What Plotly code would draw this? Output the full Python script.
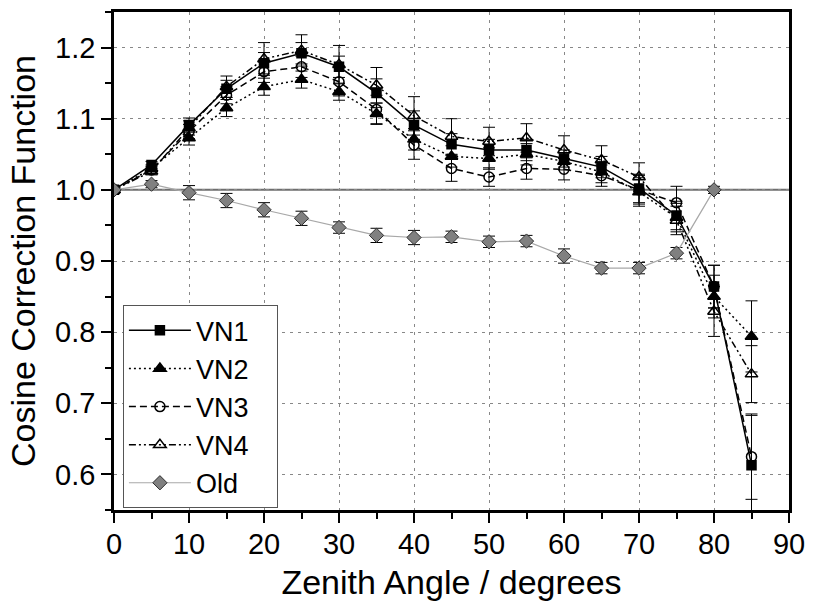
import plotly.graph_objects as go

angles = [0, 5, 10, 15, 20, 25, 30, 35, 40, 45, 50, 55, 60, 65, 70, 75, 80, 85]
vn1 = [1.000, 1.035, 1.091, 1.142, 1.178, 1.192, 1.173, 1.136, 1.091, 1.064, 1.056, 1.056, 1.044, 1.032, 1.002, 0.964, 0.864, 0.613]
vn2 = [1.000, 1.030, 1.073, 1.115, 1.145, 1.155, 1.138, 1.107, 1.071, 1.047, 1.044, 1.050, 1.040, 1.025, 0.997, 0.961, 0.850, 0.794]
vn3 = [1.000, 1.028, 1.082, 1.133, 1.166, 1.173, 1.152, 1.113, 1.063, 1.030, 1.018, 1.030, 1.029, 1.020, 1.000, 0.982, 0.864, 0.625]
vn4 = [1.000, 1.026, 1.087, 1.145, 1.184, 1.196, 1.176, 1.147, 1.104, 1.075, 1.068, 1.073, 1.056, 1.042, 1.018, 0.957, 0.829, 0.741]
vn1_err = [0.005, 0.005, 0.010, 0.012, 0.015, 0.015, 0.015, 0.020, 0.020, 0.015, 0.015, 0.015, 0.012, 0.015, 0.020, 0.020, 0.030, 0.070]
vn2_err = [0.005, 0.005, 0.010, 0.012, 0.012, 0.012, 0.012, 0.015, 0.015, 0.015, 0.015, 0.015, 0.012, 0.015, 0.020, 0.020, 0.030, 0.050]
vn3_err = [0.005, 0.005, 0.010, 0.012, 0.015, 0.015, 0.020, 0.020, 0.020, 0.018, 0.013, 0.015, 0.015, 0.015, 0.020, 0.023, 0.030, 0.060]
vn4_err = [0.005, 0.005, 0.010, 0.015, 0.023, 0.022, 0.027, 0.025, 0.027, 0.025, 0.020, 0.020, 0.020, 0.020, 0.020, 0.020, 0.035, 0.040]

old_angles = [0, 5, 10, 15, 20, 25, 30, 35, 40, 45, 50, 55, 60, 65, 70, 75, 80]
old = [1.000, 1.008, 0.996, 0.985, 0.972, 0.960, 0.947, 0.936, 0.933, 0.934, 0.927, 0.928, 0.907, 0.890, 0.890, 0.911, 1.000]
old_err = [0.005, 0.005, 0.010, 0.010, 0.010, 0.010, 0.008, 0.010, 0.010, 0.008, 0.008, 0.008, 0.010, 0.008, 0.008, 0.008, 0.005]

x_ticks = [0, 10, 20, 30, 40, 50, 60, 70, 80, 90]
y_ticks = [0.6, 0.7, 0.8, 0.9, 1.0, 1.1, 1.2]

FONT = "Liberation Sans, Arial, sans-serif"
# invisible trailing padding so the legend box is as wide as in the reference
PAD = "<span style='color:white;font-size:20px'>__</span>"

fig = go.Figure()

series = [
    ("VN1", vn1, vn1_err, "solid", "square", "black", 9),
    ("VN2", vn2, vn2_err, "2px,3px", "triangle-up", "black", 11),
    ("VN3", vn3, vn3_err, "7px,4px", "circle-open", "black", 10),
    ("VN4", vn4, vn4_err, "7px,3px,2px,3px,2px,3px", "triangle-up-open", "black", 11),
]
for i, (name, ys, es, dash, sym, col, sz) in enumerate(series):
    fig.add_trace(go.Scatter(
        x=angles, y=ys, name=name + PAD, mode="lines+markers",
        line=dict(color="black", width=1.5, dash=dash),
        marker=dict(symbol=sym, size=sz, color=col,
                    line=dict(color="black", width=1.5)),
        error_y=dict(type="data", array=es, visible=True, color="black",
                     thickness=1, width=6),
    ))

fig.add_trace(go.Scatter(
    x=old_angles, y=old, name="Old" + PAD, mode="lines+markers",
    line=dict(color="#a8a8a8", width=1.2),
    marker=dict(symbol="diamond", size=11, color="#808080",
                line=dict(color="#303030", width=1)),
    error_y=dict(type="data", array=old_err, visible=True, color="black",
                 thickness=1, width=6),
))

fig.add_hline(y=1.0, line=dict(color="#6e6e6e", width=2), layer="below")

fig.update_layout(
    width=814, height=604,
    margin=dict(l=114, r=18, t=9, b=94),
    paper_bgcolor="white", plot_bgcolor="white",
    font=dict(family=FONT, size=29, color="black"),
    showlegend=True,
    legend=dict(
        x=0.0132, y=0.411, xanchor="left", yanchor="top",
        bgcolor="white", bordercolor="#555555", borderwidth=1,
        font=dict(family=FONT, size=27, color="black"),
        traceorder="normal", itemwidth=62,
    ),
    xaxis=dict(
        range=[0, 90], tickvals=x_ticks, ticktext=[str(v) for v in x_ticks],
        showline=True, linecolor="black", linewidth=2.5, mirror=True,
        ticks="outside", ticklen=10, tickwidth=2, tickcolor="black",
        ticklabelstandoff=-4,
        minor=dict(ticks="outside", ticklen=6, tickwidth=2, tickcolor="black", dtick=5, showgrid=False),
        showgrid=True, gridcolor="#888888", gridwidth=1, griddash="3px,5px",
        zeroline=False,
        tickfont=dict(family=FONT, size=29),
        title=dict(text="Zenith Angle / degrees", font=dict(family=FONT, size=34), standoff=12),
    ),
    yaxis=dict(
        range=[0.55, 1.25], tickvals=y_ticks, ticktext=["%.1f" % v for v in y_ticks],
        showline=True, linecolor="black", linewidth=2.5, mirror=True,
        ticks="outside", ticklen=10, tickwidth=2, tickcolor="black",
        minor=dict(ticks="outside", ticklen=6, tickwidth=2, tickcolor="black", dtick=0.05, tick0=0.55, showgrid=False),
        showgrid=True, gridcolor="#888888", gridwidth=1, griddash="3px,5px",
        zeroline=False,
        tickfont=dict(family=FONT, size=29),
        title=dict(text="Cosine Correction Function", font=dict(family=FONT, size=34), standoff=10),
    ),
)

fig.write_html("out.html")
